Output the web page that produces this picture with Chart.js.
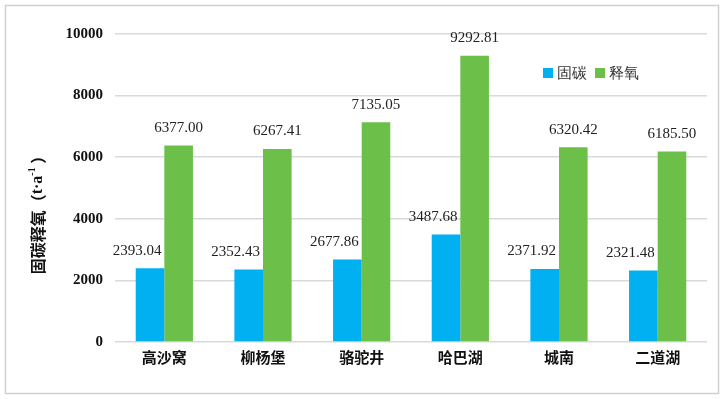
<!DOCTYPE html>
<html>
<head>
<meta charset="utf-8">
<script src="https://cdn.jsdelivr.net/npm/chart.js@4.4.1/dist/chart.umd.min.js"></script>
<style>
  html, body { margin: 0; padding: 0; background: #fff; }
  #wrap { width: 725px; height: 399px; }
</style>
</head>
<body>
<div id="wrap"><canvas id="chart" width="725" height="399"></canvas></div>
<script>
// data
const sites = ["高沙窝", "柳杨堡", "骆驼井", "哈巴湖", "城南", "二道湖"];
const carbon = [2393.04, 2352.43, 2677.86, 3487.68, 2371.92, 2321.48];
const oxygen = [6377.00, 6267.41, 7135.05, 9292.81, 6320.42, 6185.50];
const seriesNames = ["固碳", "释氧"];

const serif = "'Liberation Serif', 'DejaVu Serif', serif";
const cjk = "'Noto Sans CJK SC', sans-serif";

// frame, y title, value labels and the legend inside the plot
const decor = {
  id: "decor",
  beforeDraw(chart) {
    const c = chart.ctx;
    c.save();
    c.fillStyle = "#fff";
    c.fillRect(0, 0, chart.width, chart.height);
    c.strokeStyle = "#d0d0d0";
    c.lineWidth = 1.5;
    c.strokeRect(5.5, 5.5, 713, 388);

    // y axis title, mixed fonts, reads bottom to top
    const parts = [
      ["固碳释氧（", "bold 16px " + cjk, 0],
      ["t·a", "bold 16px " + serif, 0],
      ["-1", "bold 10px " + serif, -6],
      [" ）", "bold 16px " + cjk, 0]
    ];
    let total = 0;
    parts.forEach(p => { c.font = p[1]; total += c.measureText(p[0]).width; });
    c.translate(38, 211);
    c.rotate(-Math.PI / 2);
    c.fillStyle = "#111";
    c.textBaseline = "middle";
    c.textAlign = "left";
    let x = -total / 2;
    parts.forEach(p => {
      c.font = p[1];
      c.fillText(p[0], x, p[2]);
      x += c.measureText(p[0]).width;
    });
    c.restore();
  },
  afterDatasetsDraw(chart) {
    const c = chart.ctx;
    c.save();
    c.font = "15px " + serif;
    c.fillStyle = "#222";
    c.textAlign = "center";
    c.textBaseline = "bottom";
    chart.data.datasets.forEach((ds, i) => {
      const meta = chart.getDatasetMeta(i);
      meta.data.forEach((bar, j) => {
        const dx = i === 0 ? -13 : 0;
        c.fillText(ds.data[j].toFixed(2), bar.x + dx, bar.y - 10);
      });
    });
    // legend
    let x = 543;
    const y = 73;
    chart.data.datasets.forEach(ds => {
      c.fillStyle = ds.backgroundColor;
      c.fillRect(x, y - 5, 10, 10);
      c.fillStyle = "#333";
      c.textAlign = "left";
      c.textBaseline = "middle";
      c.font = "15px " + serif;
      c.fillText(ds.label, x + 14, y + 1);
      x += 14 + c.measureText(ds.label).width + 8;
    });
    c.restore();
  }
};

new Chart(document.getElementById("chart"), {
  type: "bar",
  data: {
    labels: sites,
    datasets: [
      { label: seriesNames[0], data: carbon, backgroundColor: "#00b0f0" },
      { label: seriesNames[1], data: oxygen, backgroundColor: "#6cc04a" }
    ]
  },
  options: {
    responsive: false,
    animation: false,
    layout: { padding: { left: 20, right: 18, top: 34, bottom: 34 } },
    datasets: { bar: { categoryPercentage: 0.58, barPercentage: 1.0 } },
    plugins: {
      legend: { display: false },
      tooltip: { enabled: false }
    },
    scales: {
      x: {
        grid: { display: false },
        border: { display: false },
        ticks: { color: "#111", font: { family: cjk, size: 15, weight: "bold", lineHeight: 1 }, padding: 0 }
      },
      y: {
        min: 0,
        max: 10000,
        ticks: {
          stepSize: 2000,
          color: "#111",
          font: { family: serif, size: 15, weight: "bold" },
          padding: 12,
          callback: v => String(v)
        },
        grid: { color: "#d9d9d9", lineWidth: 1.5, drawTicks: false },
        border: { display: false },
        afterFit(scale) { scale.width = 95; }
      }
    }
  },
  plugins: [decor]
});
</script>
</body>
</html>
